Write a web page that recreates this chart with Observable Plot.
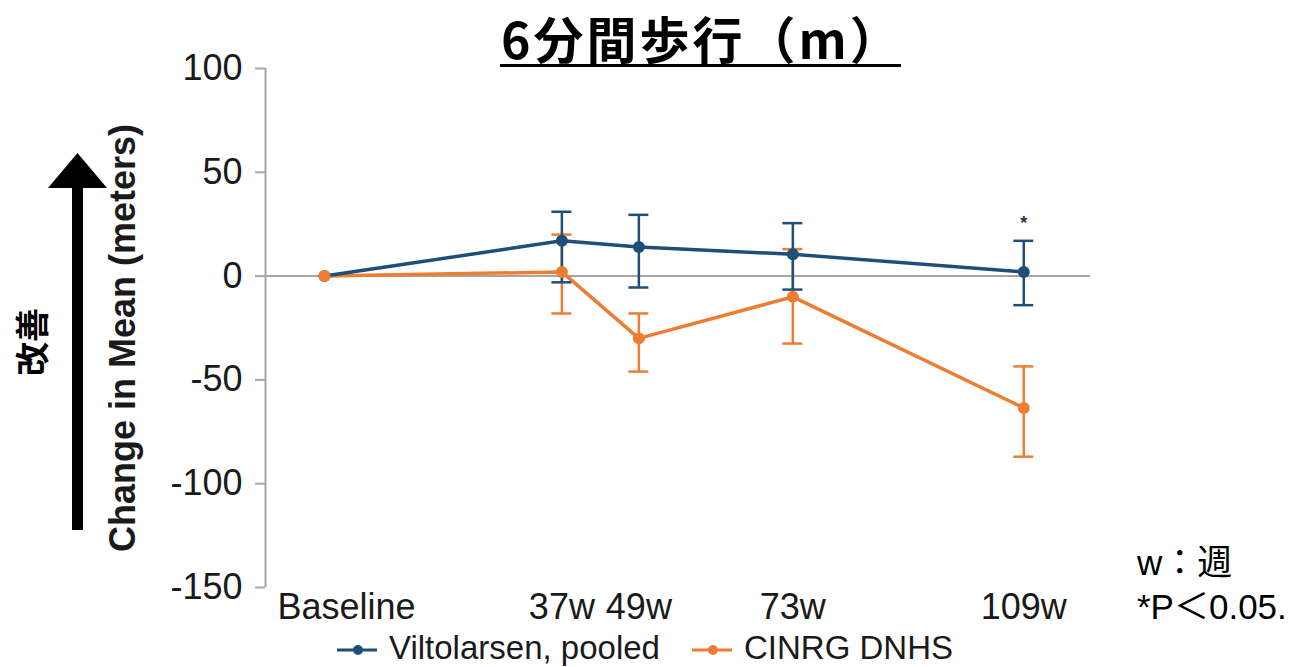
<!DOCTYPE html>
<html>
<head>
<meta charset="utf-8">
<script src="https://cdn.jsdelivr.net/npm/d3@7"></script>
<script src="https://cdn.jsdelivr.net/npm/@observablehq/plot@0.6"></script>
<style>
  html, body { margin: 0; padding: 0; background: #fff; }
  #wrap { position: relative; width: 1289px; height: 667px; overflow: hidden; background: #fff; }
  .abs { position: absolute; white-space: nowrap; }
  #title { left: 501px; top: 1px; height: 72px; line-height: 72px; font-family: "Noto Sans CJK JP", sans-serif; font-weight: 700; font-size: 50px; letter-spacing: 3px; color: #000; }
  #underline { left: 500px; top: 64px; width: 401px; height: 3px; background: #000; }
  #ylabel { left: 123px; top: 338px; transform: translate(-50%, -50%) rotate(-90deg); font-family: "Liberation Sans", Arial, sans-serif; font-weight: 700; font-size: 36px; line-height: 36px; color: #1a1a1a; }
  #kaizen { left: 31px; top: 342px; transform: translate(-50%, -50%) rotate(-90deg); font-family: "Noto Sans CJK JP", sans-serif; font-weight: 700; font-size: 34px; line-height: 34px; color: #000; }
  .note { left: 1137px; font-family: "Liberation Sans", "Noto Sans CJK JP", sans-serif; font-size: 35px; line-height: 35px; color: #000; }
  .legtext { font-family: "Liberation Sans", Arial, sans-serif; font-size: 33px; line-height: 30px; color: #1a1a1a; }
</style>
</head>
<body>
<div id="wrap">
  <div id="chart" class="abs" style="left:0;top:0"></div>
  <div id="title" class="abs"></div>
  <div id="underline" class="abs"></div>
  <div id="ylabel" class="abs"></div>
  <div id="kaizen" class="abs"></div>
  <div id="note1" class="abs note" style="top:545px"></div>
  <div id="note2" class="abs note" style="top:589px"></div>
  <svg class="abs" style="left:0;top:0" width="160" height="667">
    <polygon points="77.5,153 48,188 107,188" fill="#000"></polygon>
    <rect x="72" y="186" width="11" height="344" fill="#000"></rect>
  </svg>
  <div id="legend"></div>
</div>
<script>
// ---- data ----
const weeks = [0, 37, 49, 73, 109];
const weekLabels = ["Baseline", "37w", "49w", "73w", "109w"];
const yTicks = [100, 50, 0, -50, -100, -150];

const viltoMean = [0, 17, 14, 10.5, 2];
const viltoHigh = [null, 31, 29.5, 25.5, 17];
const viltoLow  = [null, -3, -5.5, -6.5, -14];
const viltoSig  = ["", "", "", "", "*"];

const cinrgMean = [0, 2, -30, -10, -63.5];
const cinrgHigh = [null, 20, -18, 13, -43.5];
const cinrgLow  = [null, -18, -46, -32.5, -87];
const cinrgSig  = ["", "", "", "", ""];

const seriesNames  = ["Viltolarsen, pooled", "CINRG DNHS"];
const seriesColors = ["#1f4e79", "#ed7d31"];

const titleText = "6分間歩行（m）";
const yLabelText = "Change in Mean (meters)";
const arrowText = "改善";
const noteTexts = ["w：週", "*P＜0.05."];

// ---- build tables ----
function rowsFor(name, mean, hi, lo, sig) {
  return weeks.map((w, i) => ({series: name, w, mean: mean[i], hi: hi[i], lo: lo[i], sig: sig[i]}));
}
const vilto = rowsFor(seriesNames[0], viltoMean, viltoHigh, viltoLow, viltoSig);
const cinrg = rowsFor(seriesNames[1], cinrgMean, cinrgHigh, cinrgLow, cinrgSig);

const xDomain = [-9.2, 119.4];
const labelOf = d => weekLabels[weeks.indexOf(d)];

function seriesMarks(rows, color) {
  const bars = rows.filter(d => d.hi != null);
  return [
    Plot.line(rows, {x: "w", y: "mean", stroke: color, strokeWidth: 3.5}),
    Plot.ruleX(bars, {x: "w", y1: "lo", y2: "hi", stroke: color, strokeWidth: 2.5}),
    Plot.ruleY(bars, {y: "hi", x1: "w", x2: "w", insetLeft: -10, insetRight: -10, stroke: color, strokeWidth: 2.5}),
    Plot.ruleY(bars, {y: "lo", x1: "w", x2: "w", insetLeft: -10, insetRight: -10, stroke: color, strokeWidth: 2.5})
  ];
}

const chart = Plot.plot({
  width: 1289,
  height: 630,
  marginLeft: 265,
  marginRight: 199,
  marginTop: 68,
  marginBottom: 43,
  x: {domain: xDomain},
  y: {domain: [-150, 100]},
  style: {fontFamily: "'Liberation Sans', Arial, sans-serif", fontSize: "36px", color: "#1a1a1a", background: "transparent"},
  marks: [
    Plot.ruleX([xDomain[0]], {stroke: "#a6a6a6", strokeWidth: 2}),
    Plot.ruleY([0], {stroke: "#a6a6a6", strokeWidth: 2}),
    Plot.axisY({ticks: yTicks, tickFormat: d => String(d), tickSize: 10, tickPadding: 13, stroke: "#a6a6a6", strokeWidth: 2, strokeOpacity: 1, fill: "#1a1a1a", label: null, fontSize: 36}),
    Plot.axisX({ticks: weeks.slice(0, 1), tickFormat: labelOf, tickSize: 0, tickPadding: 6, dx: 22, fill: "#1a1a1a", label: null, fontSize: 36}),
    Plot.axisX({ticks: weeks.slice(1), tickFormat: labelOf, tickSize: 0, tickPadding: 6, fill: "#1a1a1a", label: null, fontSize: 36}),
    ...seriesMarks(cinrg, seriesColors[1]),
    ...seriesMarks(vilto, seriesColors[0]),
    Plot.dot(vilto, {x: "w", y: "mean", r: 6, fill: seriesColors[0]}),
    Plot.dot(cinrg, {x: "w", y: "mean", r: 6, fill: seriesColors[1]}),
    Plot.text(vilto.filter(d => d.sig), {x: "w", y: "hi", text: "sig", dy: -18, fontSize: 18, fontWeight: "bold", fill: "#333"})
  ]
});
document.getElementById("chart").appendChild(chart);

document.getElementById("title").textContent = titleText;
document.getElementById("ylabel").textContent = yLabelText;
document.getElementById("kaizen").textContent = arrowText;
document.getElementById("note1").textContent = noteTexts[0];
document.getElementById("note2").textContent = noteTexts[1];

// legend
const legendLefts = [337, 692];
const legend = document.getElementById("legend");
seriesNames.forEach((name, i) => {
  const sw = document.createElementNS("http://www.w3.org/2000/svg", "svg");
  sw.setAttribute("width", 40); sw.setAttribute("height", 20);
  sw.setAttribute("class", "abs");
  sw.style.left = legendLefts[i] + "px"; sw.style.top = "640px";
  sw.innerHTML = `<line x1="0" x2="40" y1="10" y2="10" stroke="${seriesColors[i]}" stroke-width="3"/><circle cx="21" cy="10" r="5" fill="${seriesColors[i]}"/>`;
  legend.appendChild(sw);
  const t = document.createElement("div");
  t.className = "abs legtext";
  t.style.left = (legendLefts[i] + 52) + "px"; t.style.top = "633px";
  t.textContent = name;
  legend.appendChild(t);
});
</script>
</body>
</html>
